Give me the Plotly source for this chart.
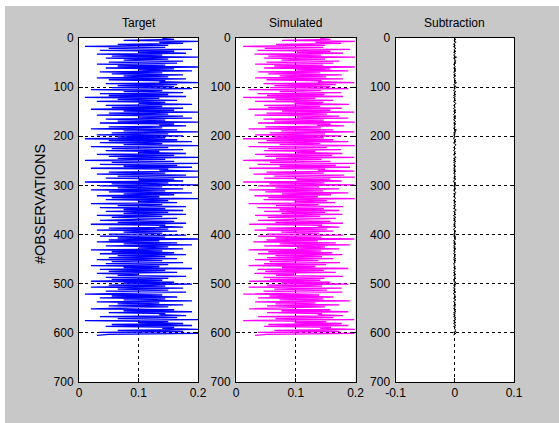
import plotly.graph_objects as go

# ---------------- data ----------------
panel_titles = ["Target", "Simulated", "Subtraction"]
y_title = "#OBSERVATIONS"
y_ticks = [0, 100, 200, 300, 400, 500, 600, 700]
x_ticks_value = [0, 0.1, 0.2]
x_ticks_diff = [-0.1, 0, 0.1]

target = [
    0.140, 0.160, 0.075, 0.200, 0.135, 0.175, 0.065, 0.150, 0.010, 0.145, 0.050, 0.190, 0.035, 0.160, 0.100, 0.180, 0.030, 0.140, 0.055, 0.200, 0.045, 0.150, 0.075, 0.175, 0.050,
    0.165, 0.030, 0.145, 0.065, 0.200, 0.045, 0.160, 0.100, 0.190, 0.035, 0.140, 0.055, 0.175, 0.075, 0.150, 0.030, 0.180, 0.050, 0.145, 0.135, 0.200, 0.045, 0.165, 0.065, 0.160,
    0.055, 0.190, 0.020, 0.140, 0.075, 0.175, 0.035, 0.150, 0.050, 0.180, 0.010, 0.135, 0.065, 0.165, 0.030, 0.145, 0.100, 0.190, 0.045, 0.140, 0.055, 0.175, 0.020, 0.160, 0.075,
    0.200, 0.050, 0.150, 0.030, 0.175, 0.100, 0.190, 0.045, 0.145, 0.065, 0.200, 0.035, 0.160, 0.135, 0.180, 0.050, 0.140, 0.020, 0.165, 0.075, 0.200, 0.055, 0.150, 0.030, 0.175,
    0.065, 0.145, 0.010, 0.165, 0.050, 0.190, 0.035, 0.140, 0.075, 0.200, 0.020, 0.150, 0.055, 0.175, 0.045, 0.135, 0.100, 0.180, 0.030, 0.160, 0.050, 0.200, 0.065, 0.145, 0.010,
    0.160, 0.055, 0.200, 0.035, 0.165, 0.075, 0.190, 0.020, 0.150, 0.135, 0.200, 0.050, 0.145, 0.030, 0.180, 0.065, 0.200, 0.045, 0.160, 0.100, 0.175, 0.010, 0.150, 0.055, 0.200,
    0.035, 0.140, 0.065, 0.175, 0.020, 0.145, 0.050, 0.190, 0.075, 0.160, 0.030, 0.135, 0.055, 0.200, 0.045, 0.150, 0.100, 0.165, 0.020, 0.140, 0.065, 0.180, 0.035, 0.145, 0.075,
    0.175, 0.045, 0.150, 0.075, 0.180, 0.030, 0.140, 0.055, 0.165, 0.100, 0.035, 0.160, 0.065, 0.180, 0.020, 0.145, 0.135, 0.175, 0.050, 0.150, 0.030, 0.165, 0.075, 0.140, 0.050,
    0.180, 0.035, 0.145, 0.065, 0.200, 0.050, 0.135, 0.030, 0.165, 0.075, 0.190, 0.045, 0.150, 0.100, 0.175, 0.020, 0.140, 0.055, 0.160, 0.035, 0.180, 0.065, 0.145, 0.050, 0.165,
    0.030, 0.140, 0.055, 0.175, 0.045, 0.150, 0.020, 0.135, 0.075, 0.190, 0.035, 0.145, 0.050, 0.165, 0.030, 0.100, 0.065, 0.180, 0.045, 0.150, 0.055, 0.140, 0.020, 0.160, 0.075,
    0.190, 0.050, 0.145, 0.020, 0.175, 0.065, 0.150, 0.045, 0.180, 0.100, 0.010, 0.140, 0.055, 0.165, 0.035, 0.145, 0.075, 0.190, 0.030, 0.135, 0.065, 0.175, 0.050, 0.150, 0.100,
    0.020, 0.160, 0.075, 0.190, 0.050, 0.145, 0.135, 0.180, 0.035, 0.165, 0.065, 0.200, 0.010, 0.150, 0.100, 0.175, 0.055, 0.190, 0.045, 0.160, 0.140, 0.200, 0.065, 0.175, 0.035,
    0.200, 0.050, 0.030,
]

simulated = [
    0.141, 0.158, 0.077, 0.199, 0.133, 0.176, 0.067, 0.149, 0.012, 0.146, 0.048, 0.191, 0.036, 0.158, 0.102, 0.179, 0.031, 0.142, 0.054, 0.200, 0.047, 0.149, 0.076, 0.173, 0.051,
    0.163, 0.032, 0.146, 0.064, 0.199, 0.047, 0.158, 0.101, 0.188, 0.037, 0.141, 0.054, 0.177, 0.073, 0.151, 0.032, 0.179, 0.051, 0.143, 0.137, 0.198, 0.046, 0.167, 0.064, 0.158,
    0.057, 0.188, 0.021, 0.142, 0.073, 0.176, 0.036, 0.148, 0.052, 0.179, 0.012, 0.133, 0.066, 0.163, 0.032, 0.146, 0.098, 0.189, 0.047, 0.141, 0.054, 0.177, 0.021, 0.158, 0.077,
    0.198, 0.051, 0.152, 0.031, 0.173, 0.102, 0.188, 0.046, 0.147, 0.064, 0.199, 0.037, 0.158, 0.136, 0.181, 0.049, 0.142, 0.021, 0.163, 0.076, 0.198, 0.057, 0.149, 0.032, 0.176,
    0.064, 0.147, 0.012, 0.163, 0.051, 0.188, 0.037, 0.141, 0.073, 0.199, 0.021, 0.152, 0.054, 0.176, 0.047, 0.133, 0.101, 0.178, 0.032, 0.161, 0.049, 0.198, 0.067, 0.143, 0.012,
    0.158, 0.057, 0.199, 0.036, 0.167, 0.073, 0.191, 0.022, 0.149, 0.137, 0.198, 0.051, 0.147, 0.029, 0.181, 0.064, 0.199, 0.047, 0.158, 0.101, 0.177, 0.012, 0.148, 0.056, 0.198,
    0.037, 0.139, 0.066, 0.173, 0.022, 0.146, 0.049, 0.188, 0.077, 0.159, 0.031, 0.137, 0.054, 0.199, 0.046, 0.152, 0.098, 0.166, 0.021, 0.138, 0.067, 0.179, 0.036, 0.147, 0.073,
    0.173, 0.047, 0.149, 0.076, 0.178, 0.032, 0.141, 0.053, 0.167, 0.099, 0.037, 0.158, 0.066, 0.179, 0.022, 0.144, 0.137, 0.173, 0.051, 0.152, 0.031, 0.163, 0.076, 0.139, 0.052,
    0.179, 0.037, 0.143, 0.066, 0.198, 0.051, 0.137, 0.029, 0.167, 0.073, 0.191, 0.047, 0.149, 0.102, 0.173, 0.021, 0.142, 0.054, 0.161, 0.037, 0.178, 0.066, 0.144, 0.052, 0.163,
    0.032, 0.138, 0.056, 0.174, 0.047, 0.151, 0.021, 0.133, 0.077, 0.188, 0.036, 0.147, 0.049, 0.167, 0.031, 0.098, 0.067, 0.179, 0.046, 0.148, 0.057, 0.141, 0.022, 0.158, 0.076,
    0.188, 0.052, 0.144, 0.021, 0.177, 0.064, 0.152, 0.046, 0.178, 0.102, 0.012, 0.139, 0.056, 0.163, 0.037, 0.146, 0.073, 0.191, 0.032, 0.133, 0.066, 0.173, 0.052, 0.149, 0.101,
    0.022, 0.158, 0.076, 0.188, 0.052, 0.144, 0.137, 0.179, 0.037, 0.163, 0.066, 0.198, 0.012, 0.151, 0.098, 0.177, 0.054, 0.188, 0.047, 0.159, 0.141, 0.199, 0.064, 0.173, 0.037,
    0.198, 0.051, 0.032,
]

subtraction = [
    0.000, 0.002, -0.001, 0.001, 0.002, -0.001, -0.002, 0.001, -0.002, -0.001, 0.002, -0.001, -0.001, 0.002, -0.002, 0.001, -0.001, -0.002, 0.001, 0.003, -0.002, 0.001, -0.001, 0.002, -0.001,
    0.002, -0.002, -0.001, 0.001, 0.001, -0.002, 0.002, -0.001, 0.002, -0.002, -0.001, 0.001, -0.002, 0.002, -0.001, -0.002, 0.001, -0.001, 0.002, -0.001, 0.003, -0.001, -0.002, 0.001, 0.002,
    -0.002, 0.001, -0.001, -0.002, 0.002, -0.001, -0.001, 0.002, -0.002, 0.001, -0.002, 0.001, -0.001, 0.002, -0.002, -0.001, 0.002, 0.001, -0.002, -0.001, 0.001, -0.002, -0.001, 0.002, -0.002,
    0.002, -0.001, -0.002, -0.001, 0.002, -0.002, 0.002, -0.001, -0.002, 0.001, 0.001, -0.002, 0.002, -0.001, -0.001, 0.001, -0.002, -0.001, 0.003, -0.001, 0.002, -0.002, 0.001, -0.002, -0.001,
    0.001, -0.002, -0.002, 0.002, -0.001, 0.002, -0.002, -0.001, 0.002, 0.001, -0.001, -0.002, 0.001, -0.001, -0.002, 0.001, -0.001, 0.002, -0.002, -0.001, 0.001, 0.002, -0.002, 0.001, -0.002,
    0.002, -0.002, 0.001, -0.001, -0.002, 0.002, -0.001, -0.002, 0.001, -0.002, 0.002, -0.001, -0.002, 0.001, -0.001, 0.001, 0.001, -0.002, 0.002, -0.001, -0.002, -0.002, 0.002, -0.001, 0.002,
    -0.002, 0.001, -0.001, 0.002, -0.002, -0.001, 0.001, 0.002, -0.002, 0.001, -0.001, -0.002, 0.001, 0.001, -0.001, -0.002, 0.002, -0.001, -0.001, 0.002, -0.002, 0.001, -0.001, -0.002, 0.002,
    0.002, -0.002, 0.001, -0.001, 0.002, -0.002, -0.001, 0.002, -0.002, 0.001, -0.002, 0.002, -0.001, 0.001, -0.002, 0.001, -0.002, 0.002, -0.001, -0.002, -0.001, 0.002, -0.001, 0.001, -0.002,
    0.001, -0.002, 0.002, -0.001, 0.002, -0.001, -0.002, 0.001, -0.002, 0.002, -0.001, -0.002, 0.001, -0.002, 0.002, -0.001, -0.002, 0.001, -0.001, -0.002, 0.002, -0.001, 0.001, -0.002, 0.002,
    -0.002, 0.002, -0.001, 0.001, -0.002, -0.001, -0.001, 0.001, -0.002, 0.002, -0.001, -0.002, 0.001, -0.002, -0.001, 0.002, -0.002, 0.001, -0.001, 0.002, -0.002, -0.001, -0.002, 0.002, -0.001,
    0.002, -0.002, 0.001, -0.001, -0.002, 0.001, -0.002, -0.001, 0.002, -0.002, -0.002, 0.001, -0.001, 0.002, -0.002, -0.001, 0.002, -0.001, -0.002, 0.001, -0.001, 0.002, -0.002, 0.001, -0.001,
    -0.002, 0.002, -0.001, 0.002, -0.002, 0.001, -0.002, 0.001, -0.002, 0.002, -0.001, 0.002, -0.002, -0.001, 0.002, -0.002, 0.001, 0.002, -0.002, 0.001, -0.001, 0.001, 0.001, 0.002, -0.002,
    0.002, -0.001, -0.002,
]


def observations(series):
    # observation numbers for each sample (every other observation, starting at 1)
    return list(range(1, 2 * len(series), 2))


# ---------------- figure ----------------
W, H = 559, 423
FONT = "Liberation Sans, Arial, Helvetica, sans-serif"

fig = go.Figure()
series = [
    (target, "#0000ff", 1.3, "x", "y"),
    (simulated, "#ff00ff", 1.3, "x2", "y2"),
    (subtraction, "#000000", 1, "x3", "y3"),
]
for vals, col, lw, xa, ya in series:
    fig.add_trace(go.Scatter(
        x=vals, y=observations(vals), mode="lines",
        line=dict(color=col, width=lw), xaxis=xa, yaxis=ya,
        showlegend=False, hoverinfo="skip",
    ))

x_domains = [(79 / W, 198 / W), (236 / W, 355.5 / W), (395.5 / W, 514 / W)]
y_domain = (1 - 382 / H, 1 - 38 / H)

common = dict(
    showline=True, linecolor="black", linewidth=1, mirror="ticks",
    ticks="inside", ticklen=4, tickcolor="black", tickwidth=1,
    showgrid=True, gridcolor="black", gridwidth=1, griddash="3px,3px",
    zeroline=False, automargin=False,
    tickfont=dict(family=FONT, size=12, color="black"),
)

layout = dict(
    width=W, height=H, margin=dict(l=0, r=0, t=0, b=0, pad=0), autosize=False,
    paper_bgcolor="#c8c8c8", plot_bgcolor="white",
    font=dict(family=FONT, size=12, color="black"),
)
for i, (xd, ticks) in enumerate(zip(x_domains, [x_ticks_value, x_ticks_value, x_ticks_diff])):
    sfx = "" if i == 0 else str(i + 1)
    rng = [ticks[0], ticks[-1]]
    layout["xaxis" + sfx] = dict(
        domain=list(xd), anchor="y" + sfx, range=rng,
        tickvals=ticks, ticktext=[("%g" % t) for t in ticks], **common,
    )
    layout["yaxis" + sfx] = dict(
        domain=list(y_domain), anchor="x" + sfx, range=[y_ticks[-1], y_ticks[0]],
        tickvals=y_ticks, ticklabelstandoff=2, **common,
    )
fig.update_layout(**layout)

# panel titles
for (x0, x1), t in zip(x_domains, panel_titles):
    fig.add_annotation(
        text=t, x=(x0 + x1) / 2, y=1 - 23 / H, xref="paper", yref="paper",
        xanchor="center", yanchor="middle", showarrow=False,
        font=dict(family=FONT, size=12, color="black"),
    )
# y-axis title
fig.add_annotation(
    text=y_title, x=40 / W, y=1 - 204 / H, xref="paper", yref="paper",
    xanchor="center", yanchor="middle", textangle=-90, showarrow=False,
    font=dict(family=FONT, size=14.5, color="black"),
)
# thin white border strips at top and left of the figure window
fig.add_shape(type="rect", xref="paper", yref="paper", x0=0, x1=5 / W, y0=0, y1=1,
              fillcolor="white", line=dict(width=0), layer="below")
fig.add_shape(type="rect", xref="paper", yref="paper", x0=0, x1=1, y0=1 - 6 / H, y1=1,
              fillcolor="white", line=dict(width=0), layer="below")

fig.write_html(
    "out.html",
    config={"displayModeBar": False, "responsive": False},
    post_script="document.body.style.margin='0';document.body.style.overflow='hidden';",
)
